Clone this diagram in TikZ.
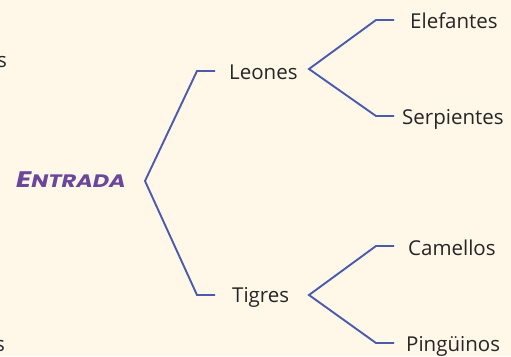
\documentclass[tikz,border=0pt]{standalone}
\usepackage{fontspec}
\setmainfont{Open Sans}
\newfontfamily\entfont{Poppins}[FakeStretch=1.25]
\definecolor{bgc}{HTML}{FFF7E8}
\definecolor{linec}{HTML}{4A5BAE}
\definecolor{entc}{HTML}{6A479A}
\definecolor{txtc}{HTML}{262626}
\begin{document}
\begin{tikzpicture}[x=1pt,y=-1pt,
  lbl/.style={font=\fontsize{20.5}{24}\selectfont, text=txtc, inner sep=0pt, anchor=west},
  br/.style={draw=linec, line width=1.9pt, line join=miter}]
\fill[bgc] (0,0) rectangle (511,356);
\useasboundingbox (0,0) rectangle (511,356);
\begin{scope}
\clip (0,0) rectangle (511,356);
\node[lbl, anchor=east] (s1) at (7,62) {s};
\node[lbl, anchor=east] (s2) at (5,346) {s};
\end{scope}
\node[inner sep=0pt, anchor=base west, text=entc, font=\entfont\bfseries\itshape] (ent) at (16,187.5)
  {{\fontsize{22.5}{26}\selectfont E}{\fontsize{18}{21}\selectfont NTRADA}};
\coordinate (v0) at (145,181);
\node[lbl] (leo) at (229,72) {Leones};
\node[lbl] (tig) at (232,297) {Tigres};
\coordinate (l1) at (197,71);
\coordinate (l2) at (215,71);
\coordinate (t1) at (197,295);
\coordinate (t2) at (215,295);
\draw[br] (l2) -- (l1) -- (v0) -- (t1) -- (t2);
\coordinate (v1) at (309,69);
\coordinate (v2) at (309,295);
\node[lbl] (ele) at (410,21) {Elefantes};
\node[lbl] (ser) at (402,119) {Serpientes};
\node[lbl] (cam) at (408,248) {Camellos};
\node[lbl] (pin) at (406,346) {Pingüinos};
\draw[br] (394,20) -- (376,20) -- (v1) -- (376,116) -- (394,116);
\draw[br] (394,246) -- (376,246) -- (v2) -- (376,343) -- (394,343);
\end{tikzpicture}
\end{document}
